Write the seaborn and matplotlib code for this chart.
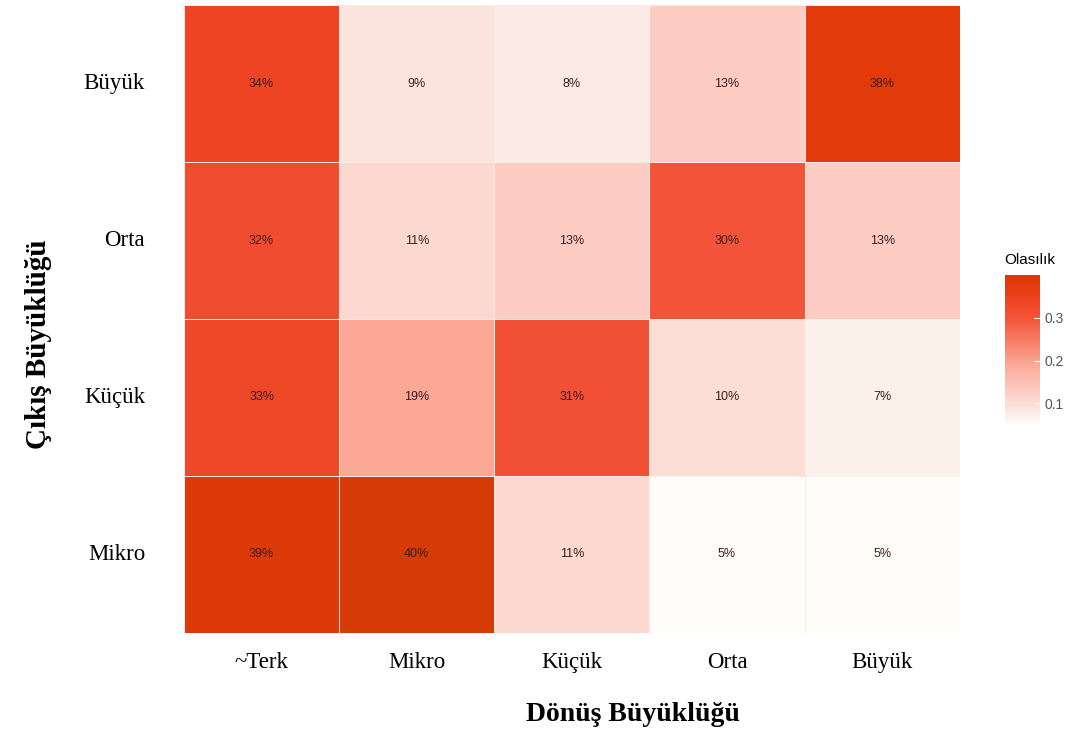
import numpy as np
import pandas as pd
import seaborn as sns
import matplotlib.pyplot as plt
from matplotlib.colors import LinearSegmentedColormap

# Data
rows = ["Büyük", "Orta", "Küçük", "Mikro"]
cols = ["~Terk", "Mikro", "Küçük", "Orta", "Büyük"]
buyuk = [0.34, 0.09, 0.08, 0.13, 0.38]
orta = [0.32, 0.11, 0.13, 0.30, 0.13]
kucuk = [0.33, 0.19, 0.31, 0.10, 0.07]
mikro = [0.39, 0.40, 0.11, 0.05, 0.05]

df = pd.DataFrame([buyuk, orta, kucuk, mikro], index=rows, columns=cols)
labels = df.map(lambda v: f"{round(v * 100):.0f}%")

# white -> red gradient similar to the reference
cmap = LinearSegmentedColormap.from_list(
    "olasilik",
    [(0.0, "#fffdf9"), (0.11, "#fbe4df"), (0.23, "#fdcbc2"), (0.40, "#fca897"),
     (0.71, "#f3553a"), (0.83, "#ee4424"), (0.94, "#e43a0c"), (1.0, "#d63a05")])

fig = plt.figure(figsize=(10.7, 7.3), dpi=100)
ax = fig.add_axes([0.172, 0.133, 0.725, 0.86])
cax = fig.add_axes([0.939, 0.418, 0.033, 0.205])

sns.heatmap(df, ax=ax, cbar_ax=cax, cmap=cmap, vmin=0.05, vmax=0.40,
            annot=labels, fmt="", linewidths=0.6, linecolor="#fbeae4",
            annot_kws={"fontsize": 9, "color": "#3a1c1c", "family": "Liberation Sans"})

serif = "Liberation Serif"
ax.set_xticklabels(cols, fontsize=16.5, family=serif, rotation=0)
ax.set_yticklabels(rows, fontsize=16.5, family=serif, rotation=0)
ax.tick_params(axis="both", length=0)
ax.tick_params(axis="x", pad=14)
ax.tick_params(axis="y", pad=28)
ax.set_xlabel("Dönüş Büyüklüğü", fontsize=20, family=serif, fontweight="bold")
ax.set_ylabel("Çıkış Büyüklüğü", fontsize=21, family=serif, fontweight="bold")
ax.xaxis.set_label_coords(0.579, -0.13)
ax.yaxis.set_label_coords(-0.188, 0.46)
ax.xaxis.label.set_va("center")
ax.yaxis.label.set_va("center")

# colorbar styling
cbar = ax.collections[0].colorbar
cbar.outline.set_visible(False)
cbar.set_ticks([0.1, 0.2, 0.3])
cbar.ax.tick_params(length=4, width=0.8, color="white", direction="in", labelsize=10,
                    labelcolor="#555555")
for t in cbar.ax.get_yticklabels():
    t.set_family("Liberation Sans")
cax.set_title("Olasılık", fontsize=11, family="Liberation Sans", loc="left", pad=8)

fig.savefig("out.png", dpi=100)
